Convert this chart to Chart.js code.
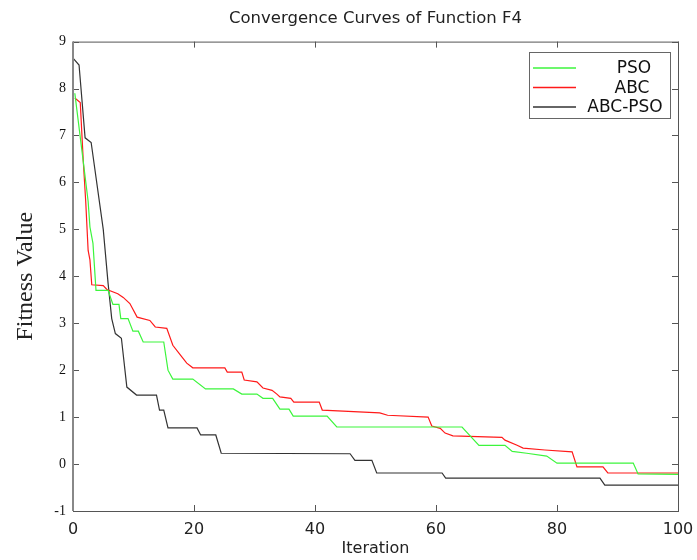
<!DOCTYPE html>
<html>
<head>
<meta charset="utf-8">
<title>Convergence Curves of Function F4</title>
<script src="https://cdn.jsdelivr.net/npm/chart.js@4.4.1/dist/chart.umd.min.js"></script>
<style>
  html, body { margin: 0; padding: 0; background: #fff; }
  #wrap { width: 697px; height: 560px; }
</style>
</head>
<body>
<div id="wrap"><canvas id="chart" width="697" height="560"></canvas></div>
<script>
// Dados (iteração, valor de aptidão)
const psoIter = [0.3, 1.5, 2.5, 2.8, 3.3, 3.8, 5.8, 6.6, 7.6, 7.9, 9.1, 9.9, 10.8, 11.6, 15, 15.7, 16.5, 19.8, 21.9, 26.5, 27.9, 30.4, 31.4, 33, 34.2, 35.7, 36.4, 42, 43.6, 64.3, 67.1, 71.4, 72.6, 75, 78.3, 80, 92.6, 93.4, 100];
const psoFit  = [7.9, 6.65, 5.6, 5.05, 4.7, 3.7, 3.7, 3.4, 3.4, 3.1, 3.1, 2.83, 2.83, 2.6, 2.6, 2.0, 1.81, 1.81, 1.6, 1.6, 1.49, 1.49, 1.4, 1.4, 1.17, 1.17, 1.02, 1.02, 0.79, 0.79, 0.4, 0.4, 0.27, 0.23, 0.17, 0.02, 0.02, -0.21, -0.22];

const abcIter = [0.3, 1.2, 1.7, 2.1, 2.5, 2.8, 3.1, 5, 5.6, 7.4, 8.3, 9.4, 10.6, 12.7, 13.6, 15.5, 16.5, 17.7, 18.8, 19.8, 25.1, 25.5, 27.9, 28.3, 30.4, 31.4, 32.9, 33.7, 34.2, 36, 36.5, 40.7, 41.2, 50.7, 52, 58.7, 59.3, 60.7, 61.5, 62.8, 70.9, 71.4, 73.4, 74.4, 78, 82.5, 83.3, 87.6, 88.4, 100];
const abcFit  = [7.8, 7.7, 6.45, 5.6, 4.55, 4.35, 3.82, 3.8, 3.72, 3.63, 3.55, 3.42, 3.13, 3.06, 2.92, 2.89, 2.53, 2.33, 2.15, 2.05, 2.05, 1.96, 1.96, 1.79, 1.75, 1.62, 1.57, 1.49, 1.43, 1.4, 1.32, 1.32, 1.15, 1.09, 1.04, 1.0, 0.81, 0.76, 0.66, 0.6, 0.57, 0.51, 0.4, 0.34, 0.3, 0.26, -0.06, -0.06, -0.19, -0.19];

const hybridIter = [0, 1, 2, 3, 5, 5.8, 6.4, 7, 8, 8.9, 10.5, 13.8, 14.3, 15, 15.7, 20.5, 21.1, 23.6, 24.5, 45.8, 46.6, 49.4, 50.2, 61, 61.6, 87.1, 87.9, 100];
const hybridFit  = [8.65, 8.5, 6.95, 6.85, 5.0, 3.85, 3.1, 2.78, 2.68, 1.64, 1.47, 1.47, 1.15, 1.15, 0.77, 0.77, 0.62, 0.62, 0.23, 0.22, 0.08, 0.08, -0.19, -0.19, -0.3, -0.3, -0.45, -0.45];

const seriesNames = ['PSO', 'ABC', 'ABC-PSO'];
const seriesColors = ['#3cf53c', '#ff1a1a', '#333333'];

const sans = '"DejaVu Sans", Verdana, sans-serif';
const serif = '"Liberation Serif", "Times New Roman", serif';

function pontos(xs, ys) {
  return xs.map((x, i) => ({ x: x, y: ys[i] }));
}

// Moldura, marcas internas e legenda no estilo MATLAB
const molduraPlugin = {
  id: 'moldura',
  afterDraw(chart) {
    const { ctx, chartArea: a, scales } = chart;
    ctx.save();
    ctx.strokeStyle = '#555';
    ctx.lineWidth = 1;
    ctx.strokeRect(a.left + 0.5, a.top + 0.5, a.right - a.left, a.bottom - a.top);
    const tl = 6;
    ctx.beginPath();
    scales.x.ticks.forEach(t => {
      const px = Math.round(scales.x.getPixelForValue(t.value)) + 0.5;
      ctx.moveTo(px, a.bottom); ctx.lineTo(px, a.bottom - tl);
      ctx.moveTo(px, a.top); ctx.lineTo(px, a.top + tl);
    });
    scales.y.ticks.forEach(t => {
      const py = Math.round(scales.y.getPixelForValue(t.value)) + 0.5;
      ctx.moveTo(a.left, py); ctx.lineTo(a.left + tl, py);
      ctx.moveTo(a.right, py); ctx.lineTo(a.right - tl, py);
    });
    ctx.stroke();
    // eixo esquerdo um pouco mais grosso, como no original
    ctx.strokeStyle = '#888';
    ctx.lineWidth = 2;
    ctx.beginPath();
    ctx.moveTo(a.left, a.top); ctx.lineTo(a.left, a.bottom);
    ctx.stroke();

    // legenda
    const lx = 529.5, ly = 52.5, lw = 141, lh = 66;
    ctx.fillStyle = '#fff';
    ctx.fillRect(lx, ly, lw, lh);
    ctx.strokeStyle = '#666';
    ctx.lineWidth = 1;
    ctx.strokeRect(lx, ly, lw, lh);
    ctx.font = '17px ' + sans;
    ctx.textAlign = 'center';
    ctx.textBaseline = 'middle';
    const textX = [634, 632, 625];
    chart.data.datasets.forEach((ds, i) => {
      const y = 68 + i * 19.5;
      ctx.strokeStyle = ds.borderColor;
      ctx.lineWidth = 1.5;
      ctx.beginPath();
      ctx.moveTo(533, y); ctx.lineTo(576, y);
      ctx.stroke();
      ctx.fillStyle = '#111';
      ctx.fillText(ds.label, textX[i], y + 1);
    });
    ctx.restore();
  }
};

const datasets = [
  pontos(psoIter, psoFit),
  pontos(abcIter, abcFit),
  pontos(hybridIter, hybridFit)
].map((data, i) => ({
  label: seriesNames[i],
  data: data,
  borderColor: seriesColors[i],
  backgroundColor: seriesColors[i],
  borderWidth: 1.2,
  pointRadius: 0,
  tension: 0,
  fill: false
}));

new Chart(document.getElementById('chart').getContext('2d'), {
  type: 'line',
  data: { datasets: datasets },
  options: {
    responsive: false,
    devicePixelRatio: 1,
    animation: false,
    layout: { padding: { left: 0, right: 19, top: 0, bottom: 0 } },
    scales: {
      x: {
        type: 'linear',
        min: 0,
        max: 100,
        ticks: { stepSize: 20, color: '#222', padding: 9, font: { family: sans, size: 16 } },
        grid: { display: false, drawTicks: false },
        border: { display: false },
        title: { display: true, text: 'Iteration', color: '#222', padding: { top: 0, bottom: 2 }, font: { family: sans, size: 16 } },
        afterFit(scale) {
          scale.height = 49;
          scale.paddingLeft = 0;
          scale.paddingRight = 0;
        }
      },
      y: {
        min: -1,
        max: 9,
        ticks: { stepSize: 1, color: '#111', padding: 7, font: { family: serif, size: 14 } },
        grid: { display: false, drawTicks: false },
        border: { display: false },
        title: { display: true, text: 'Fitness Value', color: '#222', padding: { top: 11, bottom: 0 }, font: { family: serif, size: 24 } },
        afterFit(scale) { scale.width = 73; }
      }
    },
    plugins: {
      legend: { display: false },
      tooltip: { enabled: false },
      title: {
        display: true,
        text: 'Convergence Curves of Function F4',
        color: '#222',
        fullSize: false,
        padding: { top: 9, bottom: 12.8 },
        font: { family: sans, size: 16.5, weight: 'normal' }
      }
    }
  },
  plugins: [molduraPlugin]
});
</script>
</body>
</html>
